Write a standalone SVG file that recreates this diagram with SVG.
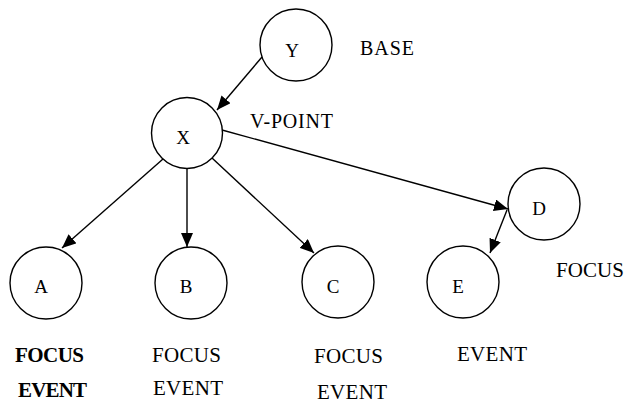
<svg xmlns="http://www.w3.org/2000/svg" width="626" height="404" viewBox="0 0 626 404" font-family="'Liberation Serif', 'Times New Roman', Tinos, 'DejaVu Serif', serif">
  <style>
    .node circle { fill: #fff; stroke: #000; stroke-width: 1.4; }
    .node text { font-size: 19px; fill: #000; text-anchor: middle; }
    .lbl { font-size: 21px; fill: #000; }
    .lbl.sm { font-size: 20px; }
    .b { font-weight: bold; }
    #edges line { stroke: #000; stroke-width: 1.4; marker-end: url(#arrow); }
  </style>
  <defs>
    <marker id="arrow" markerUnits="userSpaceOnUse" markerWidth="14" markerHeight="12" viewBox="0 0 14 12" refX="14" refY="6" orient="auto">
      <path d="M0,0 L14,6 L0,12 Z" fill="#000"/>
    </marker>
  </defs>

  <rect width="626" height="404" fill="#fff"/>

  <g id="edges">
    <line x1="262" y1="57" x2="217" y2="110"/>
    <line x1="163" y1="159" x2="62" y2="248"/>
    <line x1="187" y1="169" x2="187" y2="247"/>
    <line x1="212" y1="158" x2="314" y2="253"/>
    <line x1="222" y1="130" x2="508" y2="209"/>
    <line x1="507" y1="210" x2="490" y2="253"/>
  </g>

  <g id="node-Y" class="node"><circle cx="296" cy="45" r="36"/><text x="292" y="57">Y</text></g>
  <g id="node-X" class="node"><circle cx="187" cy="133" r="35.5"/><text x="183" y="144">X</text></g>
  <g id="node-A" class="node"><circle cx="46" cy="283" r="36"/><text x="41" y="293">A</text></g>
  <g id="node-B" class="node"><circle cx="191" cy="283" r="36"/><text x="186" y="293">B</text></g>
  <g id="node-C" class="node"><circle cx="338" cy="282" r="36"/><text x="333" y="293">C</text></g>
  <g id="node-E" class="node"><circle cx="463" cy="282" r="36"/><text x="458" y="293">E</text></g>
  <g id="node-D" class="node"><circle cx="544" cy="204" r="36"/><text x="539" y="215">D</text></g>

  <g id="labels">
    <text class="lbl sm" x="360" y="55" textLength="54">BASE</text>
    <text class="lbl sm" x="250" y="128" textLength="83">V-POINT</text>
    <text class="lbl" x="556" y="277" textLength="68">FOCUS</text>

    <text class="lbl b" x="15" y="362" textLength="69">FOCUS</text>
    <text class="lbl b" x="18" y="397" textLength="69">EVENT</text>

    <text class="lbl" x="152" y="362" textLength="69">FOCUS</text>
    <text class="lbl" x="153" y="395" textLength="70">EVENT</text>

    <text class="lbl" x="314" y="363" textLength="69">FOCUS</text>
    <text class="lbl" x="317" y="399" textLength="70">EVENT</text>

    <text class="lbl" x="457" y="361" textLength="70">EVENT</text>
  </g>
</svg>
